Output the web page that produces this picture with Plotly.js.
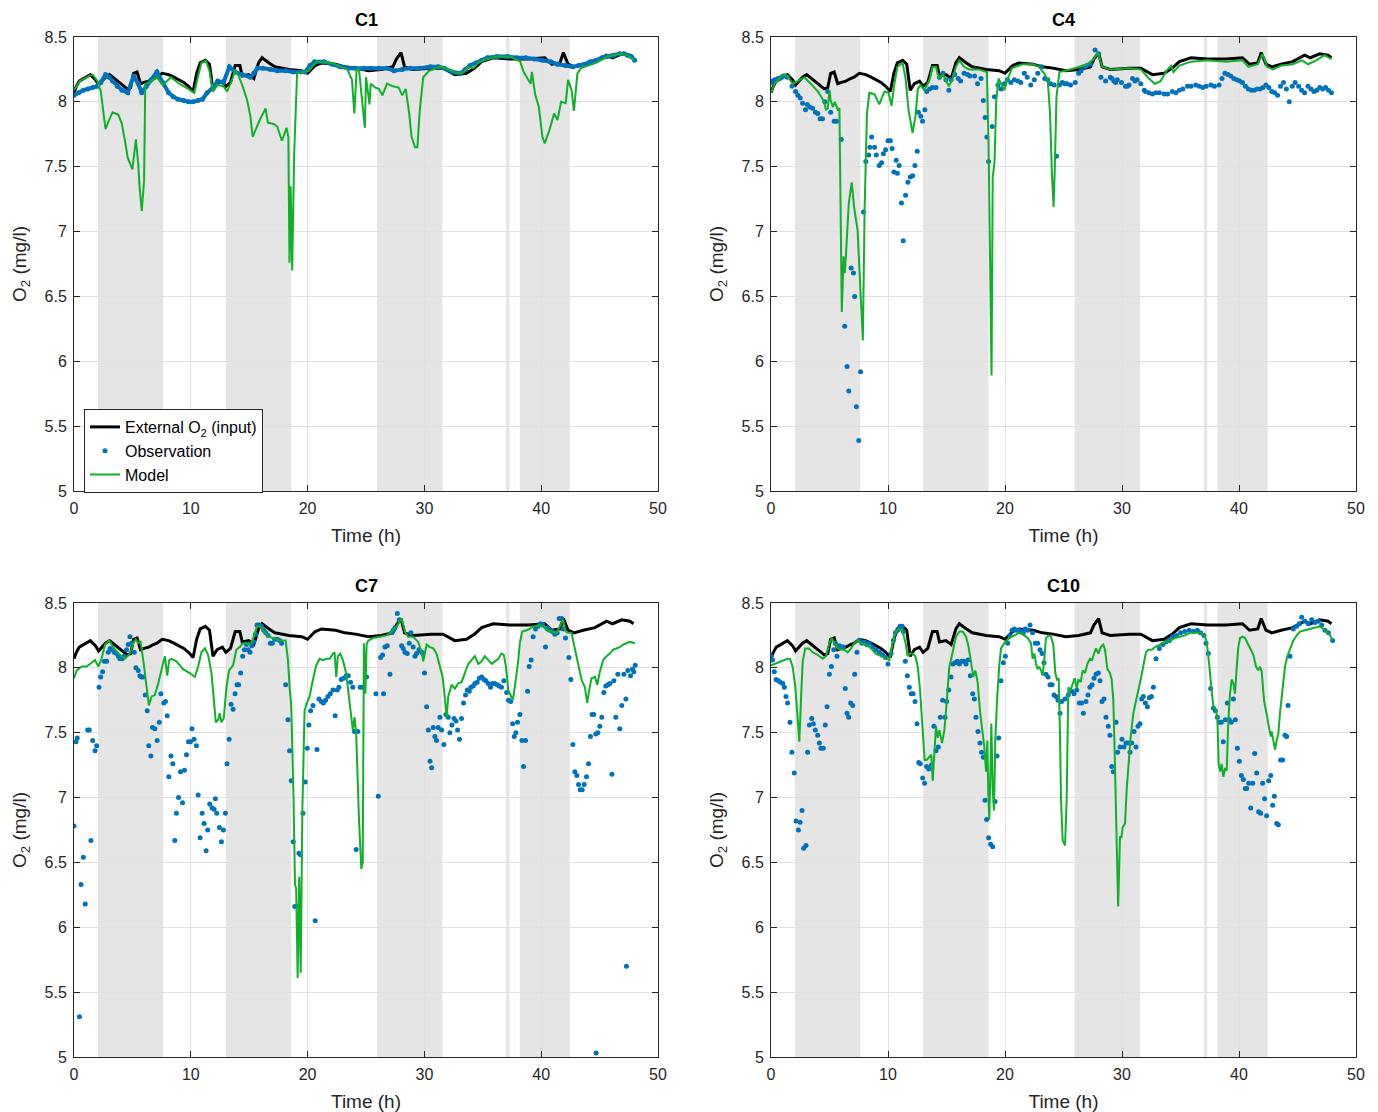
<!DOCTYPE html>
<html>
<head>
<meta charset="utf-8">
<script src="https://cdn.plot.ly/plotly-3.0.1.min.js"></script>
<style>html,body{margin:0;padding:0;background:#fff;}#chart{width:1378px;height:1112px;}</style>
</head>
<body>
<div id="chart"></div>
<script>
// ---------- DATA (time in h, O2 in mg/l) ----------
const panelNames = ["C1", "C4", "C7", "C10"];
const darkStart = [2.05, 13.0, 25.95, 37.0, 38.17];
const darkEnd   = [7.63, 18.6, 31.55, 37.28, 42.45];
const xTicks = [0, 10, 20, 30, 40, 50];
const yTicks = [5, 5.5, 6, 6.5, 7, 7.5, 8, 8.5];

// External O2 (input), identical in all panels
const extO2 = [[0,8.07],[0.2,8.12],[0.45,8.16],[1.0,8.19],[1.4,8.21],[1.85,8.17],[2.1,8.13],[2.4,8.16],[2.7,8.19],[3.05,8.21],[3.6,8.17],[4.1,8.13],[4.55,8.10],[4.85,8.11],[5.1,8.22],[5.4,8.23],[5.7,8.14],[6.0,8.15],[6.4,8.16],[6.8,8.18],[7.1,8.19],[7.55,8.22],[8.1,8.21],[8.55,8.19],[9.0,8.17],[9.4,8.15],[9.8,8.12],[10.2,8.08],[10.5,8.22],[10.8,8.30],[11.25,8.32],[11.6,8.29],[11.9,8.09],[12.25,8.14],[12.7,8.16],[13.0,8.12],[13.4,8.15],[13.8,8.28],[14.2,8.28],[14.4,8.20],[14.95,8.21],[15.4,8.18],[15.8,8.30],[16.1,8.34],[16.7,8.30],[17.2,8.27],[18.4,8.25],[19.5,8.24],[20.0,8.22],[20.65,8.28],[21.2,8.30],[22.4,8.29],[23.2,8.27],[24.1,8.26],[25.2,8.24],[26.3,8.25],[27.3,8.27],[27.6,8.33],[28.0,8.38],[28.3,8.27],[29.0,8.25],[30.6,8.26],[31.6,8.26],[32.6,8.21],[33.6,8.22],[34.3,8.26],[34.9,8.31],[35.9,8.34],[37.3,8.33],[38.9,8.33],[40.3,8.34],[40.9,8.29],[41.6,8.30],[41.9,8.38],[42.3,8.29],[42.8,8.27],[43.6,8.29],[44.6,8.31],[45.6,8.36],[46.1,8.34],[46.9,8.37],[47.6,8.36],[47.9,8.34]];

// C1
const c1Obs = [[0,8.05],[0.4,8.07],[0.8,8.09],[1.2,8.10],[1.6,8.11],[2.0,8.12],[2.3,8.15],[2.7,8.21],[3.0,8.19],[3.3,8.16],[3.7,8.12],[4.1,8.09],[4.6,8.07],[5.1,8.20],[5.5,8.14],[5.8,8.07],[6.2,8.12],[6.6,8.17],[7.1,8.23],[7.6,8.15],[8.1,8.07],[8.5,8.04],[8.9,8.02],[9.4,8.01],[9.8,8.00],[10.2,8.00],[10.6,8.01],[11.0,8.02],[11.4,8.07],[11.9,8.11],[12.3,8.16],[12.8,8.15],[13.3,8.27],[13.8,8.23],[14.4,8.21],[15.1,8.19],[15.4,8.22],[15.7,8.26],[16.2,8.26],[16.8,8.25],[17.4,8.24],[18.1,8.24],[18.8,8.23],[19.4,8.23],[19.8,8.23],[20.2,8.28],[20.6,8.31],[21.4,8.31],[22.1,8.29],[22.8,8.27],[23.5,8.26],[24.1,8.26],[24.8,8.26],[25.4,8.26],[26.1,8.26],[26.8,8.26],[27.4,8.24],[28.1,8.25],[28.8,8.26],[29.6,8.26],[30.5,8.27],[31.2,8.27],[31.7,8.26],[32.4,8.23],[33.1,8.22],[33.5,8.25],[33.9,8.28],[34.4,8.30],[34.9,8.32],[35.4,8.34],[36.2,8.35],[37.1,8.35],[37.9,8.34],[38.7,8.34],[39.4,8.33],[40.1,8.32],[40.8,8.31],[41.4,8.29],[42.1,8.28],[42.7,8.27],[43.2,8.28],[43.7,8.29],[44.2,8.31],[44.7,8.32],[45.2,8.34],[45.7,8.35],[46.2,8.36],[46.7,8.37],[47.1,8.37],[47.4,8.36],[47.7,8.35],[48.0,8.32]];
const c1Mod = [[0,8.09],[0.5,8.16],[1.1,8.19],[1.6,8.21],[2.0,8.16],[2.3,8.08],[2.5,7.93],[2.7,7.79],[3.0,7.86],[3.3,7.92],[3.8,7.90],[4.1,7.83],[4.4,7.68],[4.6,7.57],[5.0,7.48],[5.1,7.55],[5.3,7.71],[5.5,7.52],[5.6,7.36],[5.8,7.16],[6.0,7.39],[6.1,8.14],[6.5,8.15],[7.1,8.19],[7.6,8.13],[8.3,8.19],[9.0,8.14],[9.6,8.11],[10.3,8.07],[10.6,8.19],[10.9,8.30],[11.3,8.32],[11.6,8.24],[11.9,8.08],[12.3,8.13],[12.8,8.12],[13.1,8.08],[13.4,8.14],[13.8,8.24],[14.1,8.20],[14.4,8.13],[14.8,8.02],[15.1,7.89],[15.3,7.73],[15.6,7.80],[15.9,7.86],[16.4,7.95],[16.6,7.84],[17.1,7.83],[17.4,7.81],[17.8,7.70],[18.2,7.80],[18.35,7.73],[18.45,6.76],[18.55,7.35],[18.68,6.70],[18.85,7.60],[19.1,8.22],[20.1,8.24],[20.8,8.31],[22.1,8.30],[22.8,8.27],[23.4,8.25],[23.8,8.17],[24.0,7.91],[24.2,8.25],[24.4,8.25],[24.6,8.07],[24.9,7.80],[25.0,8.19],[25.3,7.98],[25.4,8.14],[25.8,8.11],[26.1,8.10],[26.4,8.05],[26.8,8.14],[27.3,8.12],[27.8,8.11],[28.1,8.05],[28.4,8.10],[28.7,7.91],[28.9,7.73],[29.2,7.65],[29.4,7.65],[29.6,7.93],[29.9,8.19],[30.4,8.24],[31.4,8.27],[32.1,8.25],[32.8,8.22],[33.4,8.23],[33.7,8.27],[34.2,8.26],[34.7,8.31],[36.1,8.35],[37.4,8.35],[38.2,8.31],[38.5,8.23],[39.1,8.14],[39.2,8.23],[39.5,8.05],[39.8,7.96],[40.1,7.73],[40.3,7.68],[40.7,7.78],[41.1,7.91],[41.4,7.86],[41.7,8.00],[42.1,7.99],[42.3,8.17],[42.6,8.09],[42.8,7.93],[43.1,8.22],[43.4,8.26],[44.7,8.30],[45.7,8.35],[46.7,8.37],[47.4,8.36],[48.0,8.32]];

// C4
const c4Obs = [[0,8.15],[0.15,8.16],[0.3,8.17],[0.45,8.17],[0.6,8.18],[0.75,8.18],[0.9,8.19],[1.05,8.20],[1.2,8.20],[1.4,8.19],[1.8,8.12],[2.1,8.08],[2.3,8.05],[2.5,8.03],[2.7,7.99],[2.95,7.94],[3.1,7.98],[3.3,7.96],[3.55,7.95],[3.8,7.92],[4.0,7.91],[4.2,7.87],[4.4,7.87],[4.6,8.00],[4.85,8.08],[5.1,7.92],[5.4,7.85],[5.6,7.85],[6.0,7.71],[6.3,6.27],[6.5,5.96],[6.65,5.77],[6.85,6.72],[7.05,6.68],[7.15,6.50],[7.3,5.65],[7.5,5.39],[7.65,5.92],[7.9,7.15],[8.1,7.54],[8.35,7.59],[8.45,7.65],[8.6,7.73],[8.85,7.65],[9.0,7.59],[9.25,7.51],[9.45,7.53],[9.6,7.60],[9.8,7.63],[10.0,7.70],[10.2,7.70],[10.35,7.64],[10.5,7.46],[10.7,7.55],[10.8,7.45],[10.95,7.51],[11.15,7.22],[11.3,6.93],[11.5,7.28],[11.7,7.38],[11.9,7.42],[12.1,7.43],[12.3,7.51],[12.5,7.62],[12.6,7.92],[12.8,7.89],[12.95,7.85],[13.15,7.94],[13.3,8.08],[13.55,8.10],[13.8,8.11],[14.1,8.11],[14.4,8.19],[14.7,8.22],[14.95,8.17],[15.2,8.09],[15.4,8.17],[15.7,8.21],[16.0,8.18],[16.2,8.16],[16.5,8.22],[16.8,8.21],[17.0,8.20],[17.4,8.20],[17.65,8.14],[17.95,8.18],[18.15,8.01],[18.3,7.88],[18.45,7.73],[18.6,7.54],[18.9,7.81],[19.1,8.04],[19.4,8.13],[19.65,8.10],[19.95,8.14],[20.2,8.17],[20.5,8.15],[20.8,8.17],[21.1,8.16],[21.35,8.15],[21.65,8.22],[21.9,8.19],[22.2,8.13],[22.5,8.17],[22.8,8.22],[23.1,8.27],[23.4,8.18],[23.65,8.17],[23.9,8.14],[24.2,8.13],[24.4,7.58],[24.65,8.13],[24.9,8.15],[25.1,8.14],[25.3,8.14],[25.6,8.13],[26.0,8.15],[26.3,8.22],[26.5,8.24],[26.8,8.27],[27.0,8.28],[27.3,8.29],[27.7,8.40],[28.0,8.37],[28.2,8.19],[28.6,8.16],[29.0,8.19],[29.15,8.18],[29.3,8.16],[29.45,8.15],[29.6,8.17],[29.95,8.15],[30.3,8.12],[30.45,8.12],[30.6,8.13],[30.9,8.18],[31.1,8.16],[31.3,8.17],[31.6,8.14],[31.9,8.09],[32.0,8.08],[32.3,8.07],[32.6,8.06],[32.9,8.07],[33.2,8.07],[33.6,8.06],[33.9,8.06],[34.3,8.08],[34.6,8.07],[34.9,8.09],[35.2,8.10],[35.6,8.12],[35.9,8.12],[36.3,8.13],[36.6,8.12],[36.9,8.11],[37.2,8.12],[37.6,8.13],[37.9,8.12],[38.3,8.13],[38.55,8.18],[38.8,8.22],[39.05,8.21],[39.3,8.20],[39.55,8.18],[39.8,8.17],[40.05,8.16],[40.3,8.15],[40.55,8.12],[40.8,8.10],[41.05,8.09],[41.3,8.09],[41.55,8.10],[41.8,8.10],[42.05,8.11],[42.3,8.13],[42.55,8.11],[42.8,8.08],[43.05,8.07],[43.3,8.05],[43.55,8.12],[43.8,8.15],[44.05,8.10],[44.3,8.00],[44.55,8.12],[44.8,8.15],[45.1,8.12],[45.35,8.09],[45.6,8.07],[45.9,8.12],[46.15,8.10],[46.4,8.08],[46.65,8.09],[46.9,8.11],[47.15,8.10],[47.4,8.11],[47.65,8.09],[47.9,8.07]];
const c4Mod = [[0,8.07],[0.3,8.14],[0.7,8.18],[1.15,8.21],[1.4,8.20],[1.85,8.14],[2.3,8.16],[2.85,8.19],[3.4,8.14],[4.0,8.08],[4.5,8.01],[4.7,7.94],[4.85,7.95],[5.0,8.09],[5.1,8.01],[5.3,7.96],[5.45,8.00],[5.7,7.94],[5.85,7.95],[6.05,6.38],[6.2,6.81],[6.3,6.68],[6.4,6.81],[6.65,7.22],[6.9,7.38],[7.1,7.19],[7.4,7.01],[7.6,6.60],[7.85,6.16],[8.0,7.17],[8.2,7.91],[8.4,8.07],[8.85,8.06],[9.25,7.98],[9.7,8.08],[10.05,8.07],[10.3,7.97],[10.55,8.14],[10.8,8.27],[11.25,8.30],[11.5,8.18],[11.75,7.94],[12.1,7.76],[12.35,7.89],[12.55,8.10],[12.8,8.13],[13.1,8.09],[13.55,8.17],[13.8,8.27],[14.1,8.27],[14.35,8.18],[14.7,8.21],[14.95,8.17],[15.2,8.12],[15.5,8.17],[15.8,8.27],[16.1,8.32],[16.5,8.27],[16.95,8.25],[17.8,8.25],[18.45,8.23],[18.6,7.65],[18.85,5.89],[18.95,7.42],[19.1,7.53],[19.25,8.01],[19.45,8.18],[19.65,8.14],[19.95,8.09],[20.2,8.17],[20.6,8.26],[21.5,8.29],[22.4,8.29],[22.9,8.27],[23.35,8.22],[23.65,8.17],[23.85,7.91],[24.0,7.47],[24.15,7.19],[24.25,7.47],[24.4,8.04],[24.65,8.23],[25.2,8.24],[25.6,8.25],[27.0,8.29],[27.6,8.33],[27.95,8.38],[28.3,8.27],[29.0,8.25],[30.6,8.26],[31.6,8.25],[32.3,8.18],[32.8,8.14],[33.3,8.16],[33.8,8.24],[34.2,8.28],[34.4,8.23],[34.9,8.28],[35.9,8.31],[37.3,8.32],[38.9,8.31],[40.3,8.32],[40.8,8.27],[41.6,8.29],[42.0,8.37],[42.4,8.27],[42.9,8.25],[43.6,8.28],[44.6,8.29],[45.4,8.32],[45.9,8.29],[46.6,8.32],[47.3,8.36],[47.9,8.33]];

// C7
const c7Obs = [[0,6.78],[0.17,7.43],[0.28,7.46],[0.47,5.31],[0.6,6.33],[0.8,6.54],[0.96,6.18],[1.17,7.52],[1.31,7.52],[1.45,6.67],[1.6,7.44],[1.8,7.36],[1.94,7.40],[2.14,7.85],[2.28,7.93],[2.45,7.97],[2.6,8.05],[2.8,8.05],[2.93,8.12],[3.08,8.15],[3.25,8.14],[3.45,8.12],[3.65,8.11],[3.8,8.09],[3.93,8.07],[4.13,8.07],[4.3,8.09],[4.5,8.14],[4.64,8.18],[4.79,8.24],[4.93,8.19],[5.16,8.12],[5.3,8.00],[5.5,7.98],[5.64,7.94],[5.78,7.93],[5.95,7.93],[6.1,7.79],[6.27,7.67],[6.4,7.40],[6.58,7.32],[6.72,7.54],[6.92,7.53],[7.12,7.44],[7.3,7.58],[7.44,7.80],[7.69,7.73],[7.83,7.74],[7.98,7.63],[8.12,7.16],[8.3,7.32],[8.46,7.26],[8.63,6.67],[8.77,6.88],[8.95,7.00],[9.12,7.20],[9.29,6.96],[9.46,7.21],[9.63,7.33],[9.8,7.43],[9.97,7.43],[10.1,7.53],[10.28,7.45],[10.48,7.40],[10.63,7.02],[10.8,6.69],[10.97,6.88],[11.14,6.80],[11.31,6.59],[11.45,6.75],[11.62,6.95],[11.82,6.92],[11.99,6.91],[12.1,6.99],[12.22,6.88],[12.45,6.77],[12.62,6.66],[12.79,6.75],[12.96,6.88],[13.1,7.26],[13.28,7.45],[13.45,7.72],[13.62,7.68],[13.79,7.80],[13.96,7.87],[14.1,7.87],[14.27,7.96],[14.44,8.09],[14.59,8.14],[14.76,8.18],[14.92,8.14],[15.07,8.12],[15.22,8.17],[15.38,8.20],[15.53,8.26],[15.67,8.33],[15.84,8.33],[16.04,8.32],[16.24,8.29],[16.42,8.27],[16.61,8.25],[16.81,8.19],[16.98,8.19],[17.18,8.22],[17.4,8.22],[17.61,8.21],[17.78,8.19],[18.12,7.87],[18.32,7.60],[18.46,7.36],[18.6,7.13],[18.77,6.66],[18.9,6.16],[19.1,6.16],[19.26,6.57],[19.4,6.56],[19.6,6.88],[19.8,7.12],[19.97,7.38],[20.11,7.56],[20.26,7.67],[20.46,7.71],[20.65,6.05],[20.8,7.37],[20.97,7.76],[21.17,7.74],[21.35,7.73],[21.54,7.75],[21.74,7.78],[21.94,7.80],[22.17,7.83],[22.36,7.63],[22.54,7.83],[22.68,7.85],[22.88,7.91],[23.08,7.92],[23.3,7.94],[23.48,7.94],[23.68,7.89],[23.87,7.85],[24.02,7.51],[24.16,6.60],[24.3,7.51],[24.5,7.85],[24.73,7.85],[25.05,7.93],[25.85,7.80],[26.05,7.01],[26.25,8.08],[26.42,8.10],[26.5,7.80],[26.62,8.16],[26.82,8.17],[27.05,7.95],[27.19,8.27],[27.33,8.29],[27.48,8.31],[27.68,8.42],[27.85,8.37],[28.05,8.17],[28.19,8.15],[28.33,8.12],[28.53,8.11],[28.7,8.19],[28.84,8.27],[29.04,8.16],[29.19,8.09],[29.33,8.11],[29.53,8.14],[29.76,8.12],[29.88,8.11],[30.01,7.96],[30.19,7.70],[30.33,7.52],[30.48,7.28],[30.62,7.23],[30.76,7.54],[30.9,7.47],[31.04,7.44],[31.18,7.54],[31.33,7.62],[31.47,7.52],[31.67,7.41],[31.84,7.64],[32.04,7.62],[32.18,7.50],[32.35,7.56],[32.53,7.61],[32.7,7.59],[32.84,7.52],[33.01,7.45],[33.18,7.61],[33.35,7.73],[33.52,7.79],[33.67,7.83],[33.84,7.82],[33.98,7.85],[34.18,7.86],[34.32,7.88],[34.52,7.89],[34.7,7.92],[34.9,7.93],[35.1,7.91],[35.26,7.90],[35.46,7.88],[35.66,7.85],[35.83,7.88],[36.03,7.88],[36.23,7.87],[36.4,7.86],[36.6,7.85],[36.8,7.90],[37.04,7.81],[37.2,7.75],[37.38,7.74],[37.55,7.57],[37.69,7.47],[37.83,7.50],[37.97,7.58],[38.17,7.64],[38.35,7.44],[38.49,7.24],[38.66,7.44],[38.83,7.82],[38.97,8.01],[39.14,8.06],[39.31,8.24],[39.51,8.30],[39.74,8.32],[39.94,8.34],[40.11,8.33],[40.37,8.16],[40.54,8.31],[40.74,8.29],[40.97,8.28],[41.17,8.26],[41.37,8.27],[41.54,8.38],[41.74,8.38],[41.88,8.30],[42.08,8.23],[42.37,8.08],[42.54,7.91],[42.71,7.41],[42.88,7.20],[43.05,7.17],[43.2,7.10],[43.34,7.06],[43.51,7.06],[43.68,7.10],[43.88,7.16],[44.05,7.26],[44.22,7.47],[44.36,7.64],[44.5,7.64],[44.67,7.49],[44.7,5.03],[44.85,7.50],[45.02,7.55],[45.19,7.62],[45.36,7.81],[45.53,7.86],[45.71,7.87],[45.88,7.88],[46.05,7.18],[46.22,7.90],[46.39,7.62],[46.56,7.95],[46.73,7.53],[46.9,7.71],[47.08,7.95],[47.25,7.76],[47.3,5.70],[47.42,7.98],[47.65,7.94],[47.82,7.99],[47.93,7.97],[48.05,8.02]];
const c7Mod = [[0,7.92],[0.23,7.98],[0.66,8.01],[1.08,8.01],[1.51,8.04],[1.8,8.06],[2.08,8.01],[2.36,8.07],[2.65,8.18],[3.02,8.21],[3.36,8.16],[3.79,8.11],[4.36,8.07],[4.79,8.11],[5.07,8.19],[5.3,8.22],[5.5,8.19],[5.7,8.20],[5.93,8.06],[6.21,7.85],[6.41,7.71],[6.64,7.78],[6.92,7.79],[7.21,7.88],[7.49,7.98],[7.78,8.09],[7.98,7.94],[8.15,8.06],[8.35,8.07],[8.77,8.05],[9.34,7.99],[9.91,7.96],[10.34,7.93],[10.63,8.01],[10.91,8.12],[11.2,8.15],[11.48,8.10],[11.77,7.96],[11.97,7.76],[12.14,7.58],[12.34,7.60],[12.48,7.65],[12.62,7.58],[12.82,7.61],[13.05,7.85],[13.28,7.98],[13.62,8.02],[13.9,8.14],[14.19,8.16],[14.47,8.19],[14.76,8.19],[15.04,8.18],[15.27,8.21],[15.47,8.27],[15.67,8.32],[15.95,8.32],[16.18,8.29],[16.61,8.24],[17.04,8.23],[17.61,8.21],[18.12,8.21],[18.32,8.06],[18.46,7.85],[18.6,7.71],[18.8,6.98],[18.92,6.33],[19.02,6.30],[19.15,5.61],[19.28,6.39],[19.41,5.65],[19.55,6.90],[19.74,7.67],[19.94,7.73],[20.17,7.78],[20.46,7.91],[20.74,8.02],[21.03,8.07],[21.31,8.06],[21.6,8.07],[21.9,8.07],[22.17,8.11],[22.31,8.12],[22.45,7.93],[22.59,8.09],[22.79,8.11],[23.02,8.06],[23.3,7.96],[23.59,7.75],[23.73,7.62],[23.87,7.52],[24.02,7.62],[24.16,7.49],[24.39,6.85],[24.6,6.45],[24.72,6.50],[24.82,8.19],[24.95,7.80],[25.05,8.18],[25.19,8.21],[25.62,8.23],[26.19,8.24],[26.76,8.25],[27.19,8.28],[27.62,8.32],[28.05,8.38],[28.33,8.28],[28.62,8.24],[29.04,8.24],[29.47,8.20],[29.76,8.12],[29.9,8.05],[30.04,8.11],[30.19,8.18],[30.48,8.16],[30.76,8.15],[31.04,8.11],[31.33,8.02],[31.56,7.93],[31.76,7.76],[31.9,7.61],[32.04,7.78],[32.33,7.87],[32.61,7.84],[32.9,7.88],[33.18,7.89],[33.47,7.96],[33.75,8.03],[34.04,8.06],[34.32,8.09],[34.61,8.03],[34.9,8.05],[35.18,8.09],[35.47,8.06],[35.76,8.03],[36.04,8.05],[36.33,8.07],[36.6,8.11],[36.8,8.10],[36.98,8.01],[37.18,7.83],[37.38,7.79],[37.55,7.75],[37.66,7.80],[37.83,7.91],[38.03,8.05],[38.17,8.19],[38.37,8.28],[38.74,8.29],[39.02,8.30],[39.31,8.32],[39.6,8.32],[39.89,8.33],[40.17,8.32],[40.46,8.29],[40.88,8.28],[41.31,8.27],[41.6,8.32],[41.88,8.37],[42.1,8.28],[42.3,8.27],[42.59,8.27],[42.88,8.14],[43.17,8.01],[43.45,7.91],[43.74,7.85],[43.94,7.73],[44.11,7.83],[44.31,7.92],[44.6,7.93],[44.8,7.87],[45.02,7.97],[45.31,8.06],[45.59,8.09],[45.88,8.11],[46.16,8.14],[46.45,8.15],[46.73,8.16],[47.02,8.18],[47.3,8.19],[47.59,8.20],[48.02,8.19]];

// C10
const c10Obs = [[0,8.09],[0.14,8.06],[0.28,7.97],[0.43,7.91],[0.63,7.90],[0.8,7.89],[1.0,7.88],[1.14,7.85],[1.28,7.78],[1.42,7.73],[1.62,7.58],[1.79,7.35],[1.99,7.19],[2.14,6.82],[2.34,6.75],[2.48,6.81],[2.65,6.90],[2.79,6.61],[2.99,6.63],[3.13,7.35],[3.28,7.56],[3.48,7.61],[3.62,7.57],[3.79,7.52],[3.99,7.48],[4.13,7.42],[4.27,7.38],[4.47,7.38],[4.64,7.56],[4.79,7.70],[4.99,7.95],[5.16,8.01],[5.36,8.14],[5.5,8.19],[5.64,8.09],[5.84,8.17],[6.04,8.16],[6.18,8.16],[6.35,7.84],[6.5,7.65],[6.64,7.62],[6.81,7.73],[6.98,7.71],[7.15,7.95],[7.35,8.12],[7.55,8.21],[7.78,8.19],[7.98,8.20],[8.18,8.18],[8.4,8.19],[8.69,8.16],[8.97,8.14],[9.26,8.12],[9.54,8.10],[9.77,8.08],[10.0,8.03],[10.26,8.11],[10.46,8.21],[10.63,8.27],[10.83,8.29],[11.03,8.32],[11.2,8.32],[11.31,8.28],[11.48,8.05],[11.65,7.94],[11.82,7.85],[11.99,7.80],[12.15,7.80],[12.31,7.74],[12.48,7.57],[12.62,7.27],[12.76,7.26],[12.96,7.15],[13.13,7.11],[13.3,7.24],[13.48,7.22],[13.7,7.25],[13.93,7.55],[14.1,7.36],[14.3,7.39],[14.47,7.62],[14.67,7.75],[14.87,7.62],[15.01,7.74],[15.19,7.83],[15.38,7.93],[15.56,8.03],[15.73,8.04],[15.93,8.05],[16.1,8.03],[16.3,8.05],[16.47,8.05],[16.67,8.03],[16.84,8.06],[17.04,7.94],[17.24,7.80],[17.38,7.76],[17.52,7.62],[17.69,7.51],[17.86,7.42],[18.0,7.35],[18.15,7.31],[18.29,6.98],[18.43,6.83],[18.6,6.69],[18.77,6.64],[18.95,6.62],[19.15,6.97],[19.32,7.32],[19.46,7.46],[19.66,7.90],[19.86,8.04],[20.03,8.09],[20.23,8.19],[20.43,8.25],[20.6,8.29],[20.8,8.30],[21.0,8.29],[21.17,8.29],[21.37,8.28],[21.57,8.27],[21.74,8.30],[21.94,8.29],[22.14,8.33],[22.36,8.27],[22.59,8.19],[22.79,8.19],[22.99,8.14],[23.16,8.11],[23.33,8.04],[23.5,7.95],[23.68,7.93],[23.85,7.87],[24.02,7.87],[24.19,7.79],[24.36,7.78],[24.53,7.75],[24.7,7.65],[24.84,7.74],[25.13,7.76],[25.41,7.79],[25.7,7.82],[25.9,7.80],[26.13,7.83],[26.35,7.73],[26.55,7.73],[26.7,7.65],[26.92,7.74],[27.09,7.79],[27.26,7.85],[27.44,7.87],[27.61,7.92],[27.78,7.95],[27.98,7.96],[28.12,7.90],[28.29,7.74],[28.46,7.76],[28.63,7.62],[28.83,7.55],[28.97,7.48],[29.12,7.24],[29.26,7.20],[29.49,7.58],[29.63,7.35],[29.83,7.39],[30.0,7.45],[30.17,7.39],[30.34,7.42],[30.51,7.42],[30.68,7.35],[30.83,7.42],[31.03,7.51],[31.2,7.39],[31.37,7.55],[31.54,7.57],[31.68,7.76],[31.82,7.78],[32.0,7.73],[32.17,7.70],[32.34,7.77],[32.51,7.78],[32.68,7.85],[32.91,8.07],[33.19,8.15],[33.48,8.18],[33.76,8.20],[34.05,8.21],[34.33,8.24],[34.67,8.25],[35.01,8.27],[35.38,8.28],[35.75,8.29],[36.1,8.28],[36.44,8.29],[36.72,8.27],[37.0,8.25],[37.18,8.19],[37.38,8.11],[37.58,7.84],[37.81,7.69],[37.98,7.67],[38.15,7.62],[38.32,7.58],[38.49,7.58],[38.66,7.43],[38.83,7.60],[39.0,7.73],[39.17,7.60],[39.34,7.58],[39.52,7.76],[39.69,7.60],[39.86,7.38],[40.03,7.28],[40.2,7.17],[40.37,7.14],[40.54,7.07],[40.66,7.07],[40.83,7.11],[41.0,6.92],[41.17,7.11],[41.34,7.34],[41.51,7.19],[41.68,6.89],[41.85,6.88],[42.02,7.11],[42.19,6.99],[42.36,6.86],[42.54,7.13],[42.71,7.17],[42.88,6.94],[43.02,7.01],[43.22,6.80],[43.36,6.79],[43.56,7.29],[43.73,7.29],[43.93,7.48],[44.07,7.47],[44.19,7.71],[44.36,8.09],[44.64,8.30],[44.93,8.32],[45.16,8.34],[45.36,8.39],[45.64,8.36],[45.93,8.34],[46.21,8.37],[46.5,8.35],[46.78,8.36],[47.07,8.33],[47.35,8.29],[47.64,8.27],[48.0,8.21]];
const c10Mod = [[0,8.02],[0.28,8.03],[0.71,8.05],[1.14,8.06],[1.42,8.07],[1.62,8.07],[1.85,8.01],[2.08,7.85],[2.28,7.55],[2.42,7.43],[2.56,7.75],[2.71,8.05],[2.93,8.15],[3.22,8.15],[3.56,8.12],[3.99,8.10],[4.42,8.07],[4.7,8.09],[4.99,8.19],[5.21,8.23],[5.41,8.19],[5.7,8.15],[5.98,8.14],[6.27,8.14],[6.55,8.12],[6.84,8.15],[7.12,8.19],[7.41,8.21],[7.69,8.19],[8.12,8.18],[8.55,8.15],[8.97,8.11],[9.4,8.09],[9.83,8.07],[10.11,8.06],[10.4,8.19],[10.68,8.28],[10.97,8.30],[11.25,8.28],[11.48,8.20],[11.68,8.09],[11.88,8.11],[12.11,8.11],[12.34,8.09],[12.54,8.01],[12.73,7.84],[12.96,7.52],[13.13,7.29],[13.3,7.29],[13.53,7.31],[13.7,7.33],[13.82,7.13],[13.96,7.39],[14.1,7.55],[14.25,7.46],[14.39,7.52],[14.62,7.42],[14.82,7.52],[15.01,7.73],[15.24,8.01],[15.38,8.06],[15.58,8.15],[15.81,8.24],[16.1,8.28],[16.38,8.28],[16.67,8.24],[16.89,8.16],[17.09,8.05],[17.29,7.93],[17.46,7.98],[17.66,7.89],[17.86,7.67],[18.09,7.49],[18.23,7.39],[18.38,7.20],[18.49,7.44],[18.58,7.01],[18.66,6.83],[18.75,7.19],[18.83,7.57],[18.95,7.06],[19.06,6.90],[19.17,7.44],[19.32,7.75],[19.52,8.03],[19.66,8.15],[19.94,8.19],[20.37,8.23],[20.8,8.25],[21.23,8.27],[21.65,8.25],[21.94,8.23],[22.22,8.19],[22.36,8.07],[22.51,8.11],[22.65,8.03],[22.79,7.99],[22.93,8.01],[23.08,7.98],[23.22,7.94],[23.36,8.07],[23.5,8.23],[23.73,8.25],[23.93,8.24],[24.13,8.18],[24.3,7.96],[24.44,7.91],[24.59,7.92],[24.7,7.49],[24.79,6.98],[24.93,6.67],[25.07,6.63],[25.13,6.63],[25.27,6.98],[25.41,7.85],[25.61,7.83],[25.78,7.88],[25.95,7.92],[26.13,7.84],[26.27,7.91],[26.47,7.89],[26.64,7.98],[26.84,7.96],[27.04,8.03],[27.26,8.07],[27.44,8.06],[27.61,8.11],[27.78,8.15],[27.98,8.11],[28.18,8.16],[28.4,8.18],[28.55,8.14],[28.75,7.99],[28.97,7.96],[29.12,7.91],[29.26,7.75],[29.4,7.24],[29.54,6.72],[29.67,6.16],[29.83,6.70],[29.94,6.69],[30.06,6.77],[30.26,6.80],[30.4,7.06],[30.54,7.24],[30.74,7.47],[30.97,7.65],[31.2,7.76],[31.4,7.83],[31.6,7.91],[31.82,8.01],[32.05,8.12],[32.25,8.14],[32.54,8.14],[32.82,8.16],[33.25,8.18],[33.68,8.20],[34.1,8.21],[34.53,8.23],[34.96,8.24],[35.38,8.25],[35.81,8.27],[36.38,8.27],[36.81,8.27],[37.09,8.24],[37.24,8.20],[37.38,8.09],[37.52,7.93],[37.66,7.83],[37.81,7.70],[37.98,7.69],[38.15,7.62],[38.26,7.26],[38.38,7.20],[38.52,7.26],[38.66,7.16],[38.8,7.22],[38.95,7.21],[39.09,7.60],[39.23,7.80],[39.37,7.91],[39.52,7.88],[39.66,7.80],[39.8,8.00],[39.94,8.16],[40.09,8.23],[40.31,8.24],[40.51,8.23],[40.8,8.18],[41.0,8.15],[41.23,8.10],[41.45,8.01],[41.65,7.98],[41.79,8.01],[41.94,7.97],[42.14,7.75],[42.36,7.65],[42.59,7.55],[42.71,7.47],[42.79,7.51],[42.93,7.44],[43.08,7.37],[43.22,7.44],[43.36,7.49],[43.5,7.65],[43.73,7.85],[43.93,8.01],[44.13,8.09],[44.36,8.14],[44.64,8.21],[44.93,8.25],[45.21,8.28],[45.64,8.29],[46.07,8.30],[46.5,8.31],[46.92,8.32],[47.21,8.30],[47.49,8.28],[47.78,8.25],[48.0,8.21]];

const obsSeries = [c1Obs, c4Obs, c7Obs, c10Obs];
const modSeries = [c1Mod, c4Mod, c7Mod, c10Mod];

// ---------- STYLE / LAYOUT ----------
const W = 1378, H = 1112;
const FONT = "Liberation Sans, Arial, Helvetica, sans-serif";
const INK = "#262626";
const C_EXT = "#000000", C_OBS = "#0072BD", C_MOD = "#10b02a";
// pixel boxes of the four axes: [left, right, top, bottom]
const boxes = [[74, 658, 37, 491], [771, 1356, 37, 491], [74, 658, 603, 1057], [771, 1356, 603, 1057]];

const xs = p => p.map(d => d[0]);
const ys = p => p.map(d => d[1]);

const traces = [];
const layout = {
  width: W, height: H,
  margin: {l: 0, r: 0, t: 0, b: 0},
  paper_bgcolor: "#fff", plot_bgcolor: "#fff",
  font: {family: FONT, color: INK},
  showlegend: true,
  legend: {
    x: 84 / W, y: 1 - 409 / H, xanchor: "left", yanchor: "top",
    bgcolor: "#fff", bordercolor: INK, borderwidth: 1,
    font: {size: 16, color: "#000", family: FONT},
    tracegroupgap: 0, itemwidth: 30, tracegroupgap: 0
  },
  shapes: [], annotations: []
};

boxes.forEach((b, i) => {
  const n = i === 0 ? "" : String(i + 1);
  const xa = "x" + n, ya = "y" + n;
  const xd = [b[0] / W, b[1] / W], yd = [1 - b[3] / H, 1 - b[2] / H];
  const common = {
    ticks: "inside", ticklen: 6, tickwidth: 1, tickcolor: INK,
    showline: true, linecolor: INK, linewidth: 1, mirror: "ticks",
    showgrid: true, gridcolor: "#e1e1e1", gridwidth: 1, zeroline: false,
    tickfont: {size: 16, color: INK, family: FONT}
  };
  layout["xaxis" + n] = Object.assign({}, common, {
    domain: xd, anchor: ya, range: [0, 50], tickvals: xTicks, ticklabelstandoff: 3,
    title: {text: "Time (h)", font: {size: 19, color: INK, family: FONT}, standoff: 12}
  });
  layout["yaxis" + n] = Object.assign({}, common, {
    domain: yd, anchor: xa, range: [5, 8.5], tickvals: yTicks, ticklabelstandoff: 3,
    title: {text: "O<sub>2</sub> (mg/l)", font: {size: 19, color: INK, family: FONT}, standoff: 12}
  });
  darkStart.forEach((s, k) => {
    layout.shapes.push({type: "rect", xref: xa, yref: ya + " domain", x0: s, x1: darkEnd[k], y0: 0, y1: 1,
      fillcolor: "#e5e5e5", line: {width: 0}, layer: "below"});
  });
  layout.annotations.push({text: "<b>" + panelNames[i] + "</b>", xref: "paper", yref: "paper",
    x: (xd[0] + xd[1]) / 2, y: yd[1] + 17 / H, xanchor: "center", yanchor: "middle", showarrow: false,
    font: {size: 18, color: "#000", family: FONT}});

  traces.push({x: xs(extO2), y: ys(extO2), xaxis: xa, yaxis: ya, type: "scatter", mode: "lines",
    name: "External O<sub>2</sub> (input)", line: {color: C_EXT, width: 3}, showlegend: i === 0, legendrank: 1});
  const obs = obsSeries[i];
  if (i === 0) {
    traces.push({x: xs(obs), y: ys(obs), xaxis: xa, yaxis: ya, type: "scatter", mode: "lines+markers",
      name: "Observation", line: {color: C_OBS, width: 4}, marker: {color: C_OBS, size: 5}, showlegend: false});
  } else {
    traces.push({x: xs(obs), y: ys(obs), xaxis: xa, yaxis: ya, type: "scatter", mode: "markers",
      name: "Observation", marker: {color: C_OBS, size: 5}, showlegend: i === 1, legendrank: 2});
  }
  const mod = modSeries[i];
  traces.push({x: xs(mod), y: ys(mod), xaxis: xa, yaxis: ya, type: "scatter", mode: "lines",
    name: "Model", line: {color: C_MOD, width: 2}, showlegend: i === 0, legendrank: 3});
});

Plotly.newPlot("chart", traces, layout, {displayModeBar: false, staticPlot: true});
</script>
</body>
</html>
